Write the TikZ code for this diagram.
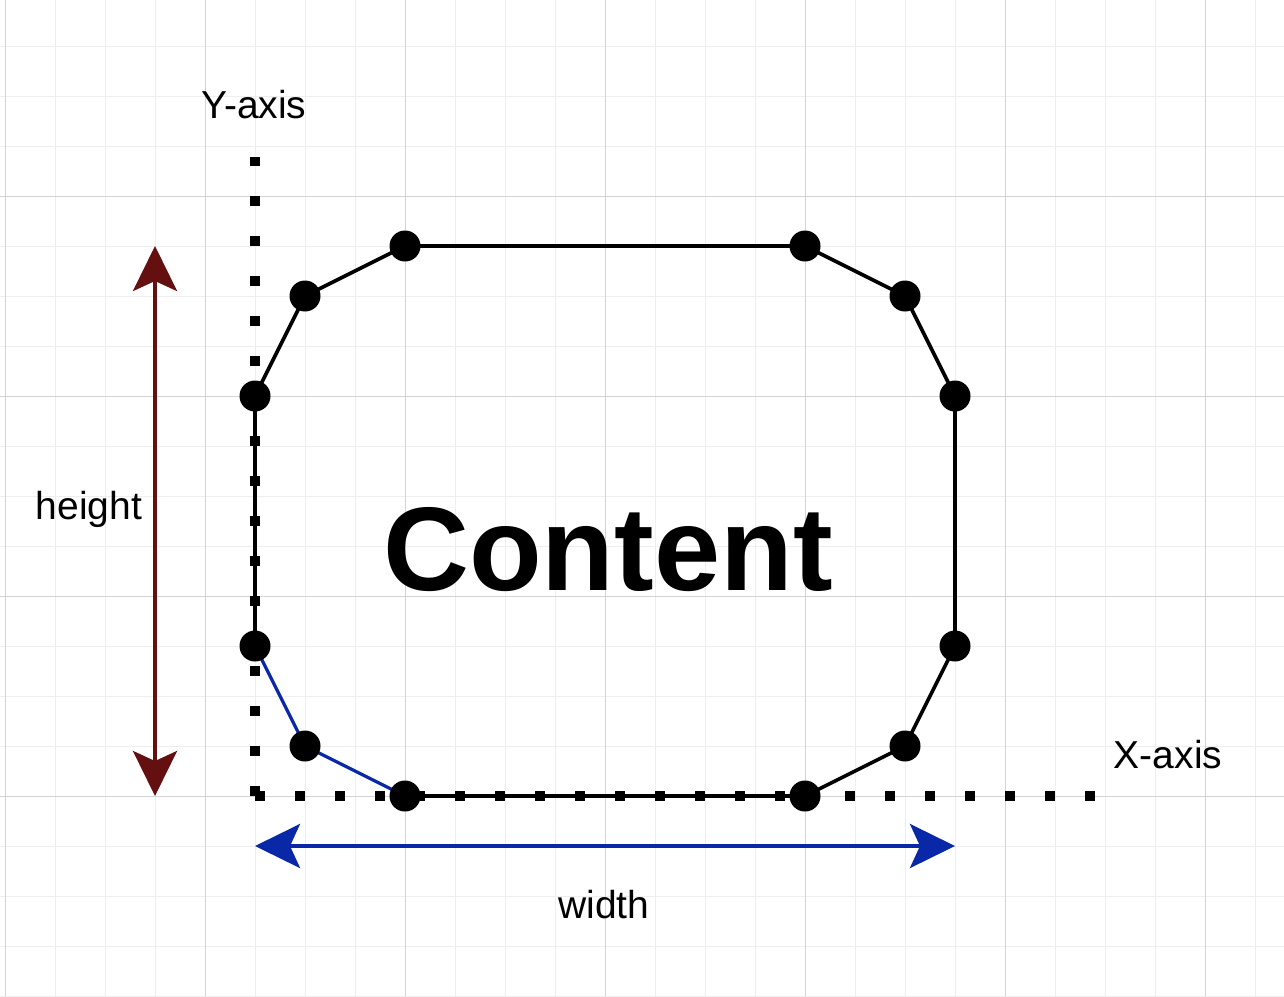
\documentclass[tikz,border=0pt]{standalone}
\usepackage{fontspec}
\setmainfont{Liberation Sans}
\usetikzlibrary{arrows.meta}
\definecolor{maroon}{RGB}{100,16,16}
\definecolor{dimblue}{RGB}{8,40,168}
\definecolor{minorgrid}{RGB}{238,238,238}
\definecolor{majorgrid}{RGB}{212,212,212}
\tikzset{
  vertex/.style={circle,fill=black,inner sep=0pt,minimum size=31pt},
  edge/.style={line width=3.6pt,black},
  bluedge/.style={line width=3.2pt,dimblue},
  axisline/.style={line width=10pt,black,dash pattern=on 10pt off 30pt},
  dimarrow/.style={line width=4pt,{Stealth[length=45pt,width=44pt,inset=10pt]}-{Stealth[length=45pt,width=44pt,inset=10pt]}},
  lbl/.style={font=\fontsize{39}{47}\selectfont,anchor=base,inner sep=0pt},
  biglbl/.style={font=\fontsize{119}{140}\selectfont\bfseries,anchor=base,inner sep=0pt}
}
\begin{document}
\begin{tikzpicture}[x=1pt,y=-1pt]
\useasboundingbox (0,0) rectangle (1284,996);
\fill[white] (0,0) rectangle (1284,996);
% grid
\foreach \i in {0,...,25} {\draw[minorgrid,line width=1pt] (5+50*\i,0) -- (5+50*\i,996);}
\foreach \j in {0,...,19} {\draw[minorgrid,line width=1pt] (0,46+50*\j) -- (1284,46+50*\j);}
\foreach \i in {0,...,6} {\draw[majorgrid,line width=1pt] (5+200*\i,0) -- (5+200*\i,996);}
\foreach \j in {0,...,3} {\draw[majorgrid,line width=1pt] (0,196+200*\j) -- (1284,196+200*\j);}
% axis coordinates
\coordinate (ytop) at (255,157);
\coordinate (ymid) at (255,646);
\coordinate (orig) at (255,796);
\coordinate (xmid) at (805,796);
\coordinate (xend) at (1095,796);
% octagon points
\coordinate (c1) at (405,246);
\coordinate (c2) at (805,246);
\coordinate (c3) at (905,296);
\coordinate (c4) at (955,396);
\coordinate (c5) at (955,646);
\coordinate (c6) at (905,746);
\coordinate (c7) at (805,796);
\coordinate (c8) at (405,796);
\coordinate (c9) at (305,746);
\coordinate (c10) at (255,646);
\coordinate (c11) at (255,396);
\coordinate (c12) at (305,296);
% outline
\draw[edge,line join=round] (c10) -- (c11) -- (c12) -- (c1) -- (c2) -- (c3) -- (c4) -- (c5) -- (c6) -- (c7) -- (c8);
\draw[bluedge,line join=round] (c8) -- (c9) -- (c10);
% dotted axes
\draw[axisline] (ymid) -- (ytop);
\draw[axisline] (orig) -- (ymid);
\draw[axisline] (orig) -- (xmid);
\draw[axisline] (xmid) -- (xend);
% vertices
\foreach \k in {1,...,12} {\node[vertex] (v\k) at (c\k) {};}
% dimension arrows
\coordinate (htop) at (155,246);
\coordinate (hbot) at (155,796);
\draw[dimarrow,maroon] (htop) -- (hbot);
\coordinate (wl) at (255,846);
\coordinate (wr) at (955,846);
\draw[dimarrow,dimblue] (wl) -- (wr);
% labels
\node[lbl] (ylab) at (254,118) {Y-axis};
\node[lbl] (xlab) at (1168,768) {X-axis};
\node[lbl] (hlab) at (89,519) {height};
\node[lbl] (wlab) at (604,918) {width};
\node[biglbl] (content) at (608,590) {Content};
\end{tikzpicture}
\end{document}
